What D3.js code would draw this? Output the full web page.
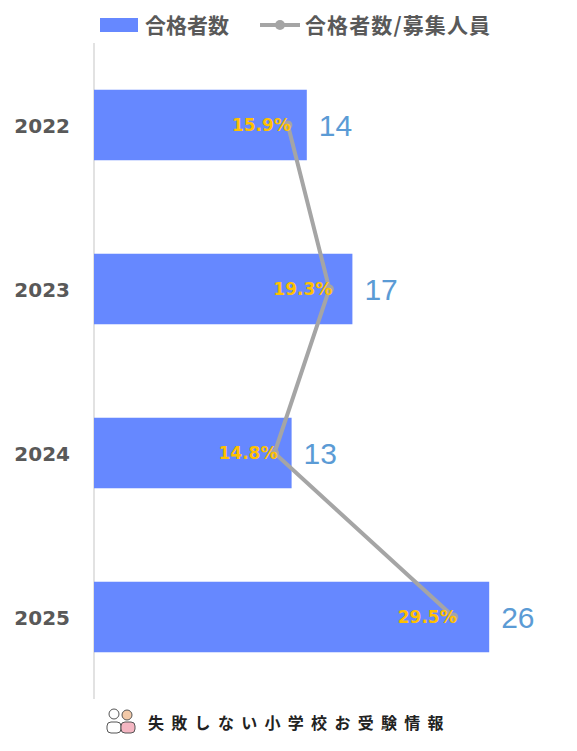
<!DOCTYPE html><html><head><meta charset="utf-8">
<script src="https://cdn.jsdelivr.net/npm/d3@7"></script>
<style>body{margin:0;background:#fff}</style></head><body>
<svg id="c" width="577" height="751"></svg>
<script>
const categories=["2022","2023","2024","2025"];
const passers=[14,17,13,26];
const ratios=[15.9,19.3,14.8,29.5];
const svg=d3.select("#c");
const font="'Noto Sans CJK JP','Noto Sans',sans-serif";
const lat="'Liberation Sans',Arial,sans-serif";
const dv="'DejaVu Sans',sans-serif";
const x=d3.scaleLinear().domain([0,30]).range([94,550]);
const x2=d3.scaleLinear().domain([0,36]).range([94,533]);
const y=d3.scaleBand().domain(categories).range([43,699]).paddingInner(0.57).paddingOuter(0.285);
svg.append("line").attr("x1",94).attr("x2",94).attr("y1",43).attr("y2",699).attr("stroke","#d9d9d9").attr("stroke-width",1.5);
svg.selectAll(".bar").data(categories).join("rect").attr("x",x(0)).attr("y",d=>y(d))
 .attr("width",(d,i)=>x(passers[i])-x(0)).attr("height",y.bandwidth()).attr("fill","#6688ff");
svg.selectAll(".cat").data(categories).join("text").attr("x",70).attr("y",d=>y(d)+y.bandwidth()/2+8)
 .attr("text-anchor","end").attr("font-family",dv).attr("font-weight","bold").attr("font-size",20).attr("fill","#595959").text(d=>d);
svg.selectAll(".val").data(categories).join("text").attr("x",(d,i)=>x(passers[i])+12).attr("y",d=>y(d)+y.bandwidth()/2+11)
 .attr("font-family",lat).attr("font-size",30).attr("fill","#5b9bd5").text((d,i)=>passers[i]);
const pts=categories.map((d,i)=>[x2(ratios[i]),y(d)+y.bandwidth()/2]);
svg.append("path").attr("d",d3.line()(pts)).attr("fill","none").attr("stroke","#a5a5a5").attr("stroke-width",4);
svg.selectAll(".dot").data(pts).join("circle").attr("cx",d=>d[0]).attr("cy",d=>d[1]).attr("r",4.5).attr("fill","#a5a5a5");
svg.selectAll(".pct").data(categories).join("text").attr("x",(d,i)=>pts[i][0]+3).attr("y",(d,i)=>pts[i][1]+6)
 .attr("text-anchor","end").attr("font-family",dv).attr("font-weight","bold").attr("font-size",17).attr("fill","#ffc000").text((d,i)=>ratios[i].toFixed(1)+"%");
// legend
svg.append("rect").attr("x",100).attr("y",18).attr("width",38).attr("height",14).attr("fill","#6688ff");
svg.append("text").attr("x",145).attr("y",33).attr("font-family",font).attr("font-weight","bold").attr("font-size",21).attr("fill","#595959").text("合格者数");
svg.append("line").attr("x1",260).attr("x2",300).attr("y1",25).attr("y2",25).attr("stroke","#a5a5a5").attr("stroke-width",4);
svg.append("circle").attr("cx",280).attr("cy",25).attr("r",5).attr("fill","#a5a5a5");
svg.append("text").attr("x",305).attr("y",33).attr("font-family",font).attr("font-weight","bold").attr("font-size",21).attr("fill","#595959").attr("textLength",185).text("合格者数/募集人員");
// footer
const g=svg.append("g");
g.append("circle").attr("cx",114).attr("cy",714).attr("r",5).attr("fill","#fff").attr("stroke","#555");
g.append("circle").attr("cx",127).attr("cy",715).attr("r",5).attr("fill","#f2c9a8").attr("stroke","#555");
g.append("rect").attr("x",107).attr("y",722).attr("width",14).attr("height",11).attr("rx",4).attr("fill","#fff").attr("stroke","#555");
g.append("rect").attr("x",121).attr("y",722).attr("width",14).attr("height",11).attr("rx",4).attr("fill","#f4b6c2").attr("stroke","#555");
svg.append("text").attr("x",148).attr("y",729).attr("font-family",font).attr("font-weight","bold").attr("font-size",16).attr("letter-spacing",7.3).attr("fill","#222").text("失敗しない小学校お受験情報");
</script></body></html>
